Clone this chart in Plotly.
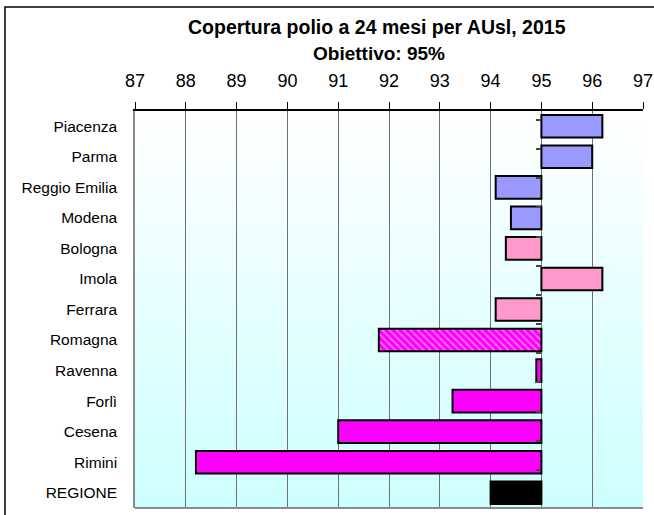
import plotly.graph_objects as go

categories = ["Piacenza", "Parma", "Reggio Emilia", "Modena", "Bologna", "Imola",
              "Ferrara", "Romagna", "Ravenna", "Forlì", "Cesena", "Rimini", "REGIONE"]
coverage = [96.2, 96.0, 94.1, 94.4, 94.3, 96.2, 94.1, 91.8, 94.9, 93.25, 91.0, 88.2, 94.0]
target = 95
colors = ["#9999ff", "#9999ff", "#9999ff", "#9999ff", "#ff99cc", "#ff99cc", "#ff99cc",
          "#ff00ff", "#ff00ff", "#ff00ff", "#ff00ff", "#ff00ff", "#000000"]
patterns = ["", "", "", "", "", "", "", "\\", "", "", "", "", ""]
x_ticks = list(range(87, 98))
title_line1 = "Copertura polio a 24 mesi per AUsl, 2015"
title_line2 = "Obiettivo: 95%"

L, R, T, B = 135, 643, 111, 508
PW, PH = R - L, B - T

def px_x(p):
    return (p - L) / PW

def px_y(p):
    return (B - p) / PH

fig = go.Figure()
fig.add_trace(go.Bar(
    y=categories,
    x=[v - target for v in coverage],
    base=target,
    orientation="h",
    width=0.74,
    marker=dict(
        color=colors,
        line=dict(color="#000000", width=2),
        pattern=dict(shape=patterns, fgcolor="#ffffff", bgcolor="#ff00ff",
                     size=5, solidity=0.3, fillmode="overlay"),
    ),
    showlegend=False, hoverinfo="x+y",
))

# invisible helper trace carrying the category axis drawn at the target line
fig.add_trace(go.Scatter(
    y=categories, x=[target] * len(categories), yaxis="y2",
    mode="markers", marker=dict(opacity=0), showlegend=False, hoverinfo="skip",
))

# gradient background for plot area
n = 60
for i in range(n):
    t = i / (n - 1)
    r = round(255 - (255 - 204) * t)
    fig.add_shape(type="rect", xref="x domain", yref="y domain",
                  x0=0, x1=1, y0=1 - (i + 1) / n, y1=1 - i / n,
                  fillcolor=f"rgb({r},255,255)", line_width=0, layer="below")

# outer frame
fig.add_shape(type="rect", xref="paper", yref="paper",
              x0=px_x(5), x1=px_x(700), y0=px_y(560), y1=px_y(7),
              line=dict(color="#000000", width=1.5), fillcolor="rgba(0,0,0,0)")

fig.add_annotation(text="<b>" + title_line1 + "</b>", xref="paper", yref="paper",
                   x=px_x(377), y=px_y(27), showarrow=False,
                   font=dict(family="Liberation Sans, Arial", size=19.5, color="#000"),
                   xanchor="center", yanchor="middle")
fig.add_annotation(text="<b>" + title_line2 + "</b>", xref="paper", yref="paper",
                   x=px_x(379), y=px_y(53), showarrow=False,
                   font=dict(family="Liberation Sans, Arial", size=19, color="#000"),
                   xanchor="center", yanchor="middle")

fig.update_layout(
    width=654, height=515,
    margin=dict(l=L, r=654 - R, t=T, b=515 - B, autoexpand=False),
    paper_bgcolor="#ffffff",
    plot_bgcolor="rgba(0,0,0,0)",
    font=dict(family="Liberation Sans, Arial", color="#000000"),
    xaxis=dict(
        side="top", range=[87, 97], tickvals=x_ticks,
        ticktext=[str(v) for v in x_ticks], automargin=False,
        showgrid=True, gridcolor="#707070", gridwidth=1,
        showline=True, linecolor="#000000", linewidth=1.5,
        ticks="outside", ticklen=7, tickcolor="#000000",
        tickfont=dict(size=18), ticklabelstandoff=8,
        zeroline=False,
    ),
    yaxis=dict(
        autorange="reversed", type="category", automargin=False,
        tickfont=dict(size=15.5), ticks="", showline=True,
        linecolor="#8a8a8a", linewidth=1.5, ticklabelstandoff=13,
        showgrid=False,
    ),
    yaxis2=dict(
        overlaying="y", anchor="free", position=(target - 87) / 10,
        autorange="reversed", type="category", categoryarray=categories,
        tickson="boundaries", ticks="outside", ticklen=5, tickcolor="#444444",
        tickwidth=1.5, showticklabels=False, showline=False, showgrid=False,
        side="left", automargin=False,
    ),
)

# bottom border of plot area
fig.add_shape(type="line", xref="x domain", yref="y domain", x0=0, x1=1, y0=0, y1=0,
              line=dict(color="#8a8a8a", width=2))

fig.write_html("out.html", config={"displayModeBar": False},
               post_script="document.body.style.margin='0';")
